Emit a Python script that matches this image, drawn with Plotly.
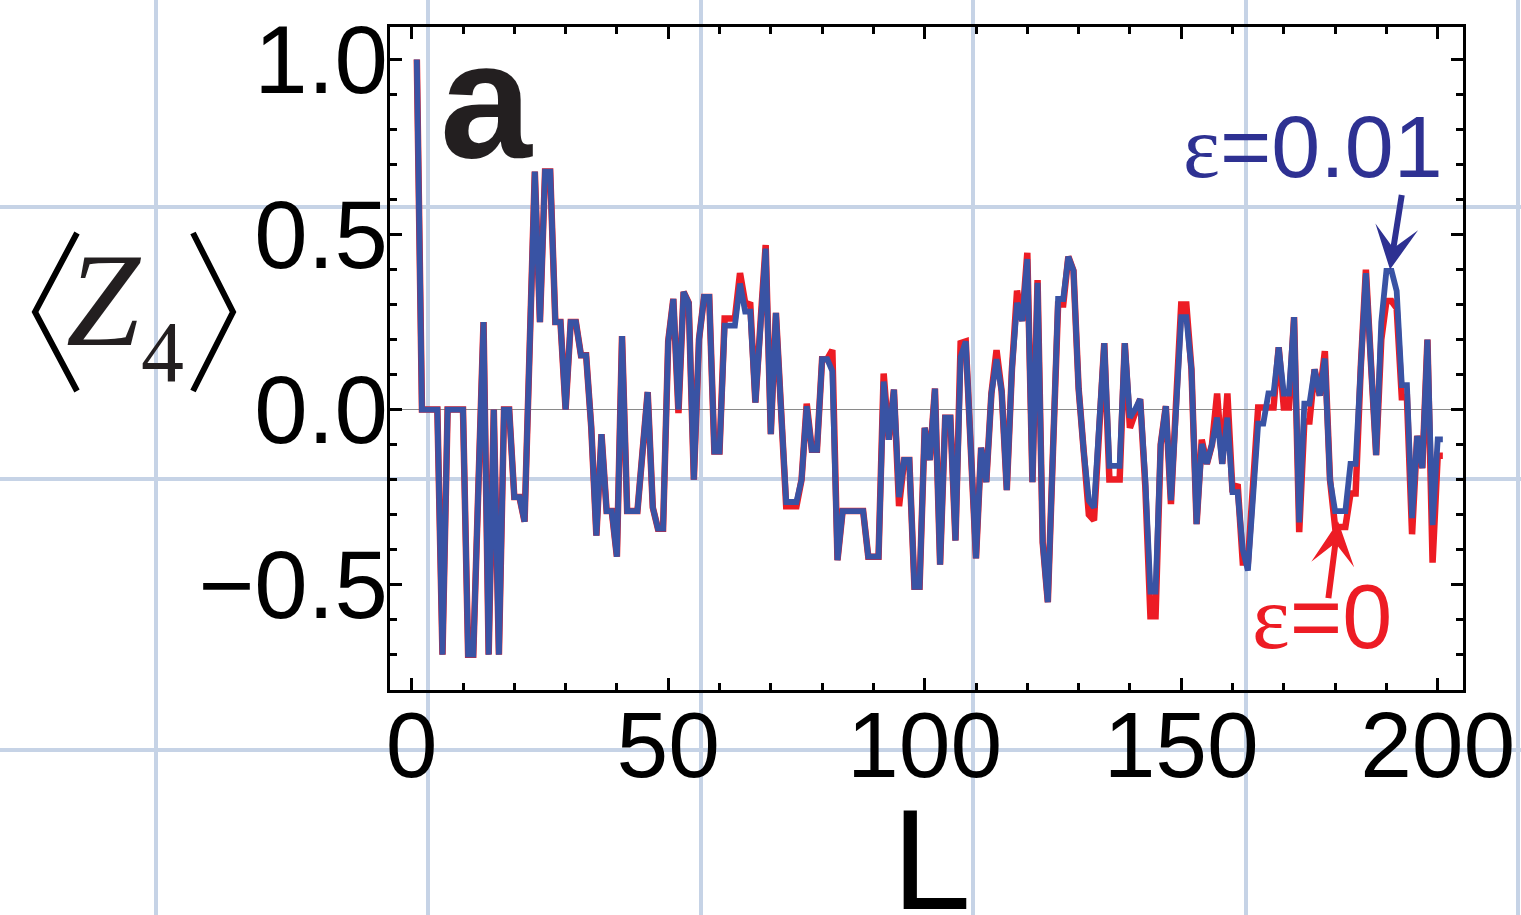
import plotly.graph_objects as go

# ---- data: <Z4> versus chain length L for two values of epsilon ----
L = list(range(1, 202))

z4_eps001 = [
    1.0, 0, 0, 0, 0, -0.70, 0, 0, 0, 0,
    -0.70, -0.70, -0.22, 0.25, -0.70, 0, -0.70, 0, 0, -0.25,
    -0.25, -0.32, 0.18, 0.68, 0.25, 0.68, 0.68, 0.25, 0.25, 0.0,
    0.25, 0.25, 0.155, 0.155, -0.05, -0.36, -0.07, -0.29, -0.29, -0.42,
    0.21, -0.29, -0.29, -0.29, -0.12, 0.05, -0.28, -0.34, -0.34, 0.195,
    0.316, 0.0, 0.336, 0.305, -0.2, 0.2, 0.322, 0.322, -0.12, -0.12,
    0.24, 0.24, 0.24, 0.36, 0.28, 0.28, 0.02, 0.24, 0.46, -0.07,
    0.276, 0.0, -0.264, -0.264, -0.264, -0.2, 0.01, -0.115, -0.115, 0.144,
    0.144, 0.11, -0.43, -0.29, -0.29, -0.29, -0.29, -0.29, -0.42, -0.42,
    -0.42, 0.08, -0.086, 0.057, -0.25, -0.144, -0.144, -0.506, -0.506, -0.052,
    -0.144, 0.06, -0.443, -0.023, -0.023, -0.374, 0.15, 0.195, -0.115, -0.425,
    -0.109, -0.207, 0.046, 0.144, 0.052, -0.23, 0.115, 0.305, 0.253, 0.43,
    -0.207, 0.362, -0.38, -0.55, -0.12, 0.316, 0.316, 0.437, 0.397, 0.06,
    -0.12, -0.26, -0.28, -0.05, 0.19, -0.161, -0.161, -0.161, 0.19, -0.023,
    0.0, 0.03, -0.2, -0.52, -0.52, -0.1, 0.01, -0.259, 0.0, 0.264,
    0.264, 0.115, -0.327, -0.098, -0.155, -0.1, -0.023, -0.155, -0.023, -0.236,
    -0.236, -0.40, -0.46, -0.25, -0.04, -0.04, 0.046, 0.046, 0.178, 0.046,
    0.046, 0.264, -0.322, 0.017, 0.017, 0.115, 0.04, 0.146, -0.2, -0.29,
    -0.29, -0.29, -0.155, -0.155, 0.12, 0.39, 0.13, -0.13, 0.25, 0.396,
    0.396, 0.339, 0.07, 0.07, -0.31, -0.075, -0.167, 0.2, -0.33, -0.085,
    -0.085,
]

z4_eps0 = [
    1.0, 0, 0, 0, 0, -0.70, 0, 0, 0, 0,
    -0.70, -0.70, -0.22, 0.25, -0.70, 0, -0.70, 0, 0, -0.25,
    -0.25, -0.32, 0.18, 0.68, 0.25, 0.68, 0.68, 0.25, 0.25, 0.0,
    0.25, 0.25, 0.155, 0.155, -0.05, -0.36, -0.07, -0.29, -0.29, -0.42,
    0.21, -0.29, -0.29, -0.29, -0.12, 0.05, -0.28, -0.34, -0.34, 0.195,
    0.316, -0.01, 0.336, 0.305, -0.2, 0.2, 0.322, 0.322, -0.12, -0.12,
    0.26, 0.26, 0.26, 0.39, 0.305, 0.30, 0.02, 0.25, 0.47, -0.07,
    0.276, 0.0, -0.276, -0.276, -0.276, -0.2, 0.017, -0.115, -0.115, 0.144,
    0.144, 0.17, -0.43, -0.29, -0.29, -0.29, -0.29, -0.29, -0.42, -0.42,
    -0.42, 0.103, -0.086, 0.057, -0.276, -0.144, -0.144, -0.506, -0.506, -0.052,
    -0.144, 0.06, -0.443, -0.023, -0.023, -0.374, 0.19, 0.195, -0.115, -0.425,
    -0.109, -0.207, 0.046, 0.17, 0.052, -0.23, 0.115, 0.34, 0.253, 0.448,
    -0.207, 0.37, -0.38, -0.55, -0.12, 0.30, 0.30, 0.437, 0.397, 0.06,
    -0.12, -0.30, -0.316, -0.06, 0.19, -0.2, -0.2, -0.2, 0.19, -0.052,
    -0.01, 0.03, -0.22, -0.59, -0.59, -0.1, 0.01, -0.27, 0.02, 0.30,
    0.30, 0.115, -0.327, -0.086, -0.155, -0.1, 0.046, -0.155, 0.046, -0.236,
    -0.213, -0.437, -0.437, -0.22, 0.006, 0.006, 0.006, 0.006, 0.178, 0.006,
    0.006, 0.264, -0.35, -0.034, -0.034, 0.115, 0.04, 0.167, -0.2, -0.335,
    -0.335, -0.335, -0.24, -0.24, 0.12, 0.40, 0.13, -0.13, 0.2, 0.31,
    0.31, 0.29, 0.035, 0.035, -0.356, -0.075, -0.167, 0.2, -0.437, -0.132,
    -0.132,
]

x_ticks = [0, 50, 100, 150, 200]
y_ticks = [-0.5, 0.0, 0.5, 1.0]

# ---- page geometry ----
W, H = 1521, 915
ML, MR, MT, MB = 390, 58, 27, 225
PW, PH = W - ML - MR, H - MT - MB


def px(x):
    return (x - ML) / PW


def py(y):
    return (H - MB - y) / PH


RED = "#ED1C24"
BLUE = "#3953A4"
NAVY = "#2E3192"

fig = go.Figure()
fig.add_trace(go.Scatter(x=L, y=z4_eps0, mode="lines",
                         line=dict(color=RED, width=6.5), name="ε=0"))
fig.add_trace(go.Scatter(x=L, y=z4_eps001, mode="lines",
                         line=dict(color=BLUE, width=5.8), name="ε=0.01"))

shapes = []
# light graph-paper grid behind everything
for gx in [156, 428, 701, 973, 1246, 1518]:
    shapes.append(dict(type="line", xref="paper", yref="paper", layer="below",
                       x0=px(gx), x1=px(gx), y0=py(0), y1=py(H),
                       line=dict(color="#c6d3e6", width=4)))
for gy in [207, 479, 750]:
    shapes.append(dict(type="line", xref="paper", yref="paper", layer="below",
                       x0=px(0), x1=px(W), y0=py(gy), y1=py(gy),
                       line=dict(color="#c6d3e6", width=4)))

# angle brackets of the y label
for pts in ([(77, 233), (35, 312), (77, 391)], [(193, 233), (233, 312), (193, 391)]):
    path = "M {} {} L {} {} L {} {}".format(
        px(pts[0][0]), py(pts[0][1]), px(pts[1][0]), py(pts[1][1]),
        px(pts[2][0]), py(pts[2][1]))
    shapes.append(dict(type="path", xref="paper", yref="paper", path=path,
                       line=dict(color="black", width=6)))

annotations = [
    dict(text="L", xref="paper", yref="paper", x=px(931), y=py(859),
         showarrow=False, font=dict(family="Liberation Sans", size=142, color="black"),
         xanchor="center", yanchor="middle"),
    dict(text="<b>a</b>", xref="paper", yref="paper", x=px(486), y=py(100),
         showarrow=False, font=dict(family="Liberation Sans", size=165, color="#231f20"),
         xanchor="center", yanchor="middle"),
    dict(text="<i>Z</i>", xref="paper", yref="paper", x=px(104), y=py(300),
         showarrow=False, font=dict(family="Liberation Serif", size=133, color="#231f20"),
         xanchor="center", yanchor="middle"),
    dict(text="4", xref="paper", yref="paper", x=px(162), y=py(352),
         showarrow=False, font=dict(family="Liberation Serif", size=86, color="#231f20"),
         xanchor="center", yanchor="middle"),
    dict(text="<span style='font-family:Liberation Serif'>ε</span>=0.01",
         xref="paper", yref="paper", x=px(1445), y=py(146),
         showarrow=False, font=dict(family="Liberation Sans", size=88, color=NAVY),
         xanchor="right", yanchor="middle"),
    dict(text="<span style='font-family:Liberation Serif'>ε</span>=0",
         xref="paper", yref="paper", x=px(1394), y=py(617),
         showarrow=False, font=dict(family="Liberation Sans", size=90, color=RED),
         xanchor="right", yanchor="middle"),
    # arrows pointing at the two curves
    dict(text="", x=190.7, y=0.40, xref="x", yref="y", ax=12, ay=-76,
         showarrow=True, arrowhead=3, arrowsize=1.2, arrowwidth=6,
         arrowcolor=NAVY, standoff=0),
    dict(text="", x=180.6, y=-0.32, xref="x", yref="y", ax=-10, ay=78,
         showarrow=True, arrowhead=3, arrowsize=1.2, arrowwidth=6,
         arrowcolor=RED, standoff=0),
]

axis_common = dict(showline=True, linecolor="black", linewidth=3, mirror="allticks",
                   ticks="inside", tickcolor="black", tickwidth=2.5, ticklen=12,
                   showgrid=False, automargin=False)

fig.update_layout(
    width=W, height=H, autosize=False,
    margin=dict(l=ML, r=MR, t=MT, b=MB, pad=0),
    paper_bgcolor="white", plot_bgcolor="rgba(0,0,0,0)",
    showlegend=False,
    shapes=shapes, annotations=annotations,
    xaxis=dict(range=[-4.23, 204.93], tickvals=x_ticks,
               ticktext=[str(v) for v in x_ticks],
               tickfont=dict(family="Liberation Sans", size=93, color="black"),
               ticklabelstandoff=-28,
               minor=dict(dtick=10, tick0=0, ticks="inside", ticklen=7,
                          tickwidth=2.5, tickcolor="black"),
               zeroline=False, **axis_common),
    yaxis=dict(range=[-0.801, 1.093], tickvals=y_ticks,
               tickformat=".1f",
               tickfont=dict(family="Liberation Sans", size=96, color="black"),
               ticklabelstandoff=-20,
               minor=dict(dtick=0.1, tick0=0, ticks="inside", ticklen=7,
                          tickwidth=2.5, tickcolor="black"),
               zeroline=True, zerolinecolor="#8a8a8a", zerolinewidth=1.3,
               **axis_common),
)

fig.write_html("out.html")
